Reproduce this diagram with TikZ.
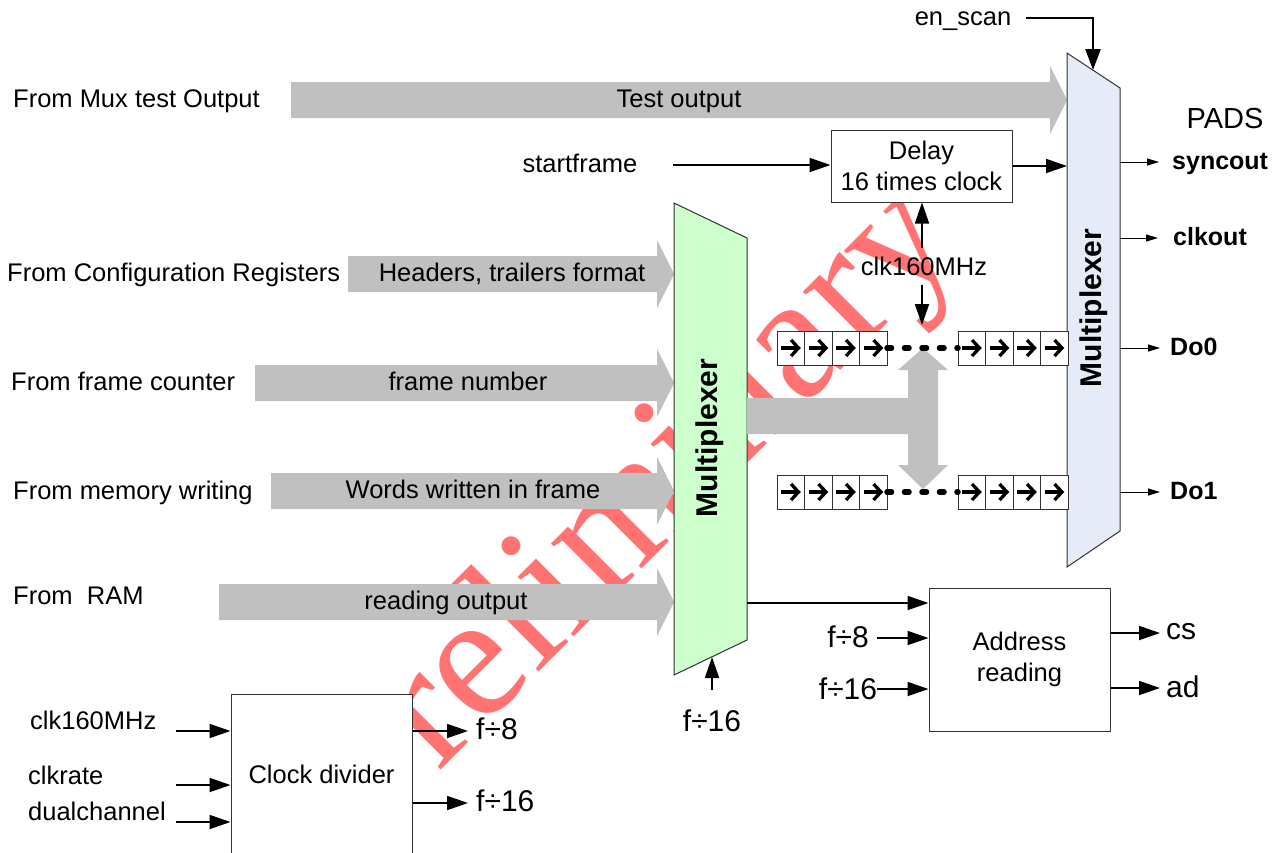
\documentclass[tikz,border=0pt]{standalone}
\usepackage{fontspec}
\setmainfont{Liberation Sans}
\newfontfamily\wmfont{Liberation Serif}
\usetikzlibrary{arrows.meta}
\definecolor{wmred}{RGB}{255,115,115}
\definecolor{busgray}{RGB}{192,192,192}
\definecolor{muxgreen}{RGB}{204,255,204}
\definecolor{muxblue}{RGB}{230,236,247}
\definecolor{edgegray}{RGB}{50,50,50}
\newcommand{\grayarr}[4]{\fill[busgray] (#1,#2-18) -- (#3,#2-18) -- (#3,#2-34) -- (#4,#2) -- (#3,#2+34) -- (#3,#2+18) -- (#1,#2+18) -- cycle;}
\tikzset{
  txt/.style={font=\fontsize{25.5}{30}\selectfont, inner sep=0pt, text height=21.5pt, text depth=6pt},
  btxt/.style={font=\fontsize{25}{30}\selectfont\bfseries, inner sep=0pt, text height=21pt, text depth=6pt},
  bigtxt/.style={font=\fontsize{30}{34}\selectfont, inner sep=0pt, text height=25pt, text depth=7pt},
  muxtxt/.style={font=\fontsize{30}{34}\selectfont\bfseries, inner sep=0pt, rotate=90},
  blk/.style={draw=edgegray, line width=1pt, fill=white, inner sep=0pt, font=\fontsize{25.5}{31}\selectfont, align=center},
  muxshape/.style={draw=edgegray, line width=1pt},
  arr/.style={line width=1.8pt, -{Triangle[length=21pt,width=14pt]}},
  tarr/.style={line width=2.5pt, -{Triangle[length=21pt,width=15pt]}},
  sarr/.style={line width=1pt, -{Triangle[length=12pt,width=7pt]}},
  dotline/.style={line width=5.5pt, line cap=round, dash pattern=on 4.5pt off 13pt},
  wm/.style={font=\wmfont\fontsize{178}{178}\selectfont, text=wmred, inner sep=0pt, rotate=45},
  regs/.pic={
    \foreach \i in {0,1,2,3}{
      \draw[draw=edgegray, line width=1pt, fill=white] ({\i*27.5},-17) rectangle ++(27.5,34);
      \draw[line width=3.3pt] ({\i*27.5+4},0) -- ({\i*27.5+19},0);
      \draw[line width=3.3pt, line join=miter] ({\i*27.5+14},-8) -- ({\i*27.5+21.5},0) -- ({\i*27.5+14},8);
    }
  }
}
\begin{document}
\begin{tikzpicture}[x=1pt,y=-1pt]
\useasboundingbox (0,0) rectangle (1288,852);
\clip (0,0) rectangle (1288,852);
\fill[white] (0,0) rectangle (1288,852);
% watermark
\node[wm] (wm) at (636,515) {Preliminary};
% gray input arrows
\grayarr{291}{100}{1050}{1067}
\grayarr{348}{274}{657}{674}
\grayarr{255}{383}{657}{674}
\grayarr{271}{491}{657}{674}
\grayarr{219}{602}{657}{674}
\node[txt] (tTest) at (679,100) {Test output};
\node[txt] (tHead) at (512,274) {Headers, trailers format};
\node[txt] (tFrame) at (468,383) {frame number};
\node[txt] (tWords) at (473,491) {Words written in frame};
\node[txt] (tRead) at (446,602) {reading output};
\node[txt, anchor=west] (sMux) at (13,100) {From Mux test Output};
\node[txt, anchor=west] (sConf) at (7,274) {From Configuration Registers};
\node[txt, anchor=west] (sFC) at (11,383) {From frame counter};
\node[txt, anchor=west] (sMem) at (13,492) {From memory writing};
\node[txt, anchor=west] (sRAM) at (13,597) {From\ \ RAM};
% multiplexers
\coordinate (A1) at (674,203); \coordinate (A2) at (747,238);
\coordinate (A3) at (747,640); \coordinate (A4) at (674,675);
\filldraw[muxshape, fill=muxgreen] (A1) -- (A2) -- (A3) -- (A4) -- cycle;
\node[muxtxt] (muxA) at (710,438) {Multiplexer};
\coordinate (B1) at (1067,53); \coordinate (B2) at (1120,88);
\coordinate (B3) at (1120,531); \coordinate (B4) at (1067,567);
\filldraw[muxshape, fill=muxblue] (B1) -- (B2) -- (B3) -- (B4) -- cycle;
\node[muxtxt] (muxB) at (1094,308) {Multiplexer};
% gray bus
\fill[busgray] (747,398) -- (908,398) -- (908,370) -- (898,370) -- (923,348) -- (948,370) -- (938,370) -- (938,465) -- (948,465) -- (923,489) -- (898,465) -- (908,465) -- (908,434) -- (747,434) -- cycle;
% shift registers
\pic at (777,348) {regs};
\pic at (958,348) {regs};
\pic at (777,492) {regs};
\pic at (958,492) {regs};
\draw[dotline] (887,348) -- (958,348);
\draw[dotline] (887,492) -- (958,492);
% delay
\node[blk, minimum width=181pt, minimum height=72pt] (delay) at (921.5,166) {Delay\\16 times clock};
\node[txt] (sf) at (580,165) {startframe};
\coordinate (sfs) at (673,165);
\draw[arr] (sfs) -- (sfs -| delay.west);
\draw[arr] (delay.east) -- (delay.east -| B1);
% en_scan
\node[txt] (enscan) at (963,18) {en\_scan};
\coordinate (enB) at (1093,70);
\draw[tarr] (enscan.east) ++(15,0) -| (enB);
% clk middle
\node[txt] (clkm) at (924,268) {clk160MHz};
\coordinate (cu) at (922,248);
\draw[arr] (cu) -- (cu |- delay.south);
\coordinate (cd1) at (922,285); \coordinate (cd2) at (922,325);
\draw[arr] (cd1) -- (cd2);
% outputs
\node[font=\fontsize{29}{32}\selectfont, inner sep=0pt] (pads) at (1225,119) {PADS};
\coordinate (o1) at (1120,162); \coordinate (o1e) at (1159,162);
\coordinate (o2) at (1120,238); \coordinate (o2e) at (1158,238);
\coordinate (o3) at (1120,348); \coordinate (o3e) at (1160,348);
\coordinate (o4) at (1120,492); \coordinate (o4e) at (1160,492);
\draw[sarr] (o1) -- (o1e); \draw[sarr] (o2) -- (o2e);
\draw[sarr] (o3) -- (o3e); \draw[sarr] (o4) -- (o4e);
\node[btxt, anchor=west] (syncout) at (1172,162) {syncout};
\node[btxt, anchor=west] (clkout) at (1173,238) {clkout};
\node[btxt, anchor=west] (do0) at (1170,348) {Do0};
\node[btxt, anchor=west] (do1) at (1170,492) {Do1};
% muxA bottom clock
\node[bigtxt] (f16m) at (712,722) {f÷16};
\coordinate (f16ms) at (712,690); \coordinate (f16me) at (712,657);
\draw[arr] (f16ms) -- (f16me);
% address reading
\node[blk, minimum width=181pt, minimum height=143pt] (addr) at (1019.5,659.5) {Address\\reading};
\coordinate (ma) at (747,603);
\draw[arr] (ma) -- (ma -| addr.west);
\node[bigtxt] (f8a) at (848,638) {f÷8};
\coordinate (f8s) at (877,638);
\draw[arr] (f8s) -- (f8s -| addr.west);
\node[bigtxt] (f16a) at (848,690) {f÷16};
\coordinate (f16s) at (877,689);
\draw[arr] (f16s) -- (f16s -| addr.west);
\coordinate (cse) at (1160,633); \coordinate (ade) at (1160,688);
\draw[arr] (addr.east |- cse) -- (cse);
\draw[arr] (addr.east |- ade) -- (ade);
\node[bigtxt, anchor=west] (cs) at (1166,630) {cs};
\node[bigtxt, anchor=west] (ad) at (1166,688) {ad};
% clock divider
\node[blk, minimum width=181pt, minimum height=160pt] (clkdiv) at (321.5,774) {Clock divider};
\node[txt, anchor=west] (ci1) at (30,722) {clk160MHz};
\node[txt, anchor=west] (ci2) at (28,777) {clkrate};
\node[txt, anchor=west] (ci3) at (28,813) {dualchannel};
\coordinate (c1) at (176,731); \coordinate (c2) at (176,785); \coordinate (c3) at (176,822);
\draw[arr] (c1) -- (c1 -| clkdiv.west);
\draw[arr] (c2) -- (c2 -| clkdiv.west);
\draw[arr] (c3) -- (c3 -| clkdiv.west);
\coordinate (co1) at (468,731); \coordinate (co2) at (468,803);
\draw[arr] (clkdiv.east |- co1) -- (co1);
\draw[arr] (clkdiv.east |- co2) -- (co2);
\node[bigtxt, anchor=west] (f8c) at (476,730) {f÷8};
\node[bigtxt, anchor=west] (f16c) at (476,802) {f÷16};
\end{tikzpicture}
\end{document}
